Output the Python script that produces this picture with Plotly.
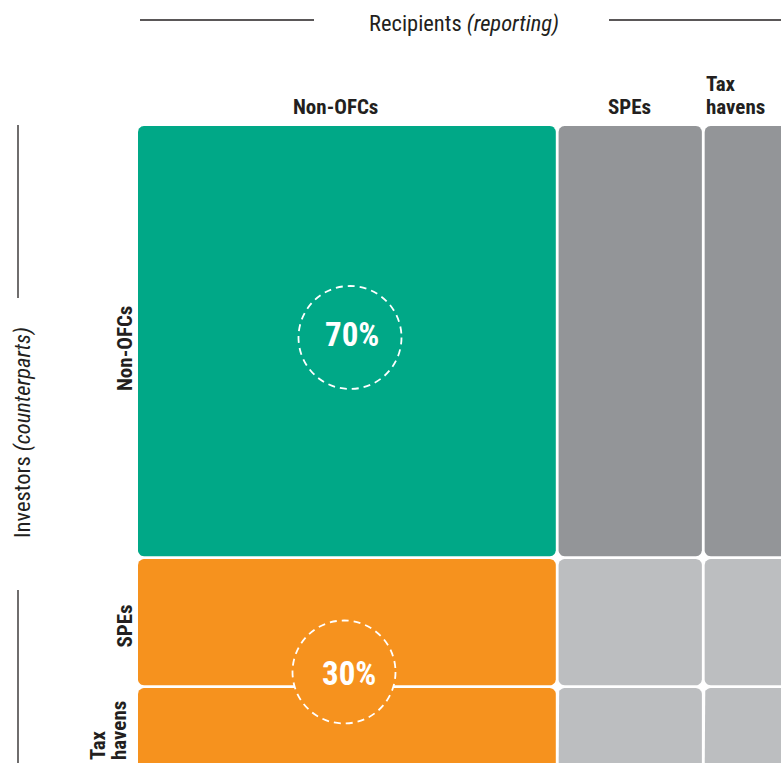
import plotly.graph_objects as go
import numpy as np

# ---- data ----
recipients = ["Non-OFCs", "SPEs", "Tax<br>havens"]          # columns (reporting)
investors = ["Non-OFCs", "SPEs", "Tax<br>havens"]           # rows (counterparts)
recipient_shares = [64.0, 22.3, 13.7]                       # column widths, % of total
investor_shares = [65.9, 19.7, 14.4]                        # row heights, % of total
highlight_labels = ["70%", "30%"]                           # non-OFC recipients: from non-OFCs / from OFCs

# ---- styling ----
GREEN = "#00A887"
ORANGE = "#F6921E"
DARK_GRAY = "#939598"
LIGHT_GRAY = "#BCBEC0"
INK = "#231F20"
FONT = "Roboto Condensed, Liberation Sans Narrow, DejaVu Sans Condensed, sans-serif"
LABEL_SIZE = 21

W, H = 781, 763
SCALE = 6.55          # pixels per share unit
X0_PX, Y0_PX = 138, 126

def px_x(p):
    return (p - X0_PX) / SCALE

def px_y(p):
    return (p - Y0_PX) / SCALE

col_edges = np.concatenate([[0], np.cumsum(recipient_shares)])
row_edges = np.concatenate([[0], np.cumsum(investor_shares)])

def cell_color(r, c):
    if c == 0:
        return GREEN if r == 0 else ORANGE
    return DARK_GRAY if r == 0 else LIGHT_GRAY

def rounded_rect(x0, x1, y0, y1, rad):
    xs, ys = [], []
    corners = [
        (x1 - rad, y0 + rad, -np.pi / 2, 0),
        (x1 - rad, y1 - rad, 0, np.pi / 2),
        (x0 + rad, y1 - rad, np.pi / 2, np.pi),
        (x0 + rad, y0 + rad, np.pi, 1.5 * np.pi),
    ]
    for cx, cy, a0, a1 in corners:
        t = np.linspace(a0, a1, 8)
        xs.extend(cx + rad * np.cos(t))
        ys.extend(cy + rad * np.sin(t))
    xs.append(xs[0])
    ys.append(ys[0])
    return xs, ys

gap = 1.4 / SCALE
rad = 6 / SCALE

fig = go.Figure()
for r in range(len(investors)):
    for c in range(len(recipients)):
        x0, x1 = col_edges[c] + gap, col_edges[c + 1] - gap
        y0, y1 = row_edges[r] + gap, row_edges[r + 1] - gap
        if c == 0:
            x0 = col_edges[c]
        if r == 0:
            y0 = row_edges[r]
        xs, ys = rounded_rect(x0, x1, y0, y1, rad)
        fig.add_trace(go.Scatter(
            x=xs, y=ys, mode="lines", fill="toself",
            fillcolor=cell_color(r, c), line=dict(width=0),
            hoverinfo="skip", showlegend=False,
        ))

shapes = []
annotations = []

# dashed circles + percentage labels
circle_r = 51.5 / SCALE
circle_centers = [(px_x(350), px_y(337.5)), (px_x(344), px_y(672))]
circle_fills = [GREEN, ORANGE]
label_pos = [(px_x(352), px_y(334)), (px_x(348.5), px_y(673))]
for (cx, cy), fill, (lx, ly), lab in zip(circle_centers, circle_fills, label_pos, highlight_labels):
    shapes.append(dict(type="circle", xref="x", yref="y", layer="above",
                       x0=cx - circle_r, x1=cx + circle_r, y0=cy - circle_r, y1=cy + circle_r,
                       fillcolor=fill,
                       line=dict(color="white", width=1.8, dash="7px,5px")))
    annotations.append(dict(x=lx, y=ly, xref="x", yref="y", text=f"<b>{lab}</b>",
                            showarrow=False, font=dict(family=FONT, size=33, color="white")))

def bold_font():
    return dict(family=FONT, size=LABEL_SIZE, color=INK)

# column headers
annotations.append(dict(x=px_x(335), y=px_y(106.5), xref="x", yref="y", text=f"<b>{recipients[0]}</b>",
                        showarrow=False, xanchor="center", yanchor="middle", font=bold_font()))
annotations.append(dict(x=px_x(629), y=px_y(106.5), xref="x", yref="y", text=f"<b>{recipients[1]}</b>",
                        showarrow=False, xanchor="center", yanchor="middle", font=bold_font()))
for line, ypx in zip(recipients[2].split("<br>"), [83.5, 106.5]):
    annotations.append(dict(x=px_x(704), y=px_y(ypx), xref="x", yref="y", text=f"<b>{line}</b>",
                            showarrow=False, xanchor="left", yanchor="middle", font=bold_font()))

# row headers (rotated)
annotations.append(dict(x=px_x(124.5), y=px_y(348.5), xref="x", yref="y", text=f"<b>{investors[0]}</b>",
                        showarrow=False, xanchor="center", yanchor="middle", textangle=-90,
                        font=bold_font()))
annotations.append(dict(x=px_x(124.5), y=px_y(626), xref="x", yref="y", text=f"<b>{investors[1]}</b>",
                        showarrow=False, xanchor="center", yanchor="middle", textangle=-90,
                        font=bold_font()))
for line, xpx in zip(investors[2].split("<br>"), [97.5, 119]):
    annotations.append(dict(x=px_x(xpx), y=px_y(762.5), xref="x", yref="y", text=f"<b>{line}</b>",
                            showarrow=False, xanchor="center", yanchor="bottom", textangle=-90,
                            font=bold_font()))

# axis titles
annotations.append(dict(x=px_x(464), y=px_y(23), xref="x", yref="y",
                        text="Recipients <i>(reporting)</i>", showarrow=False,
                        font=dict(family=FONT, size=22.5, color=INK)))
annotations.append(dict(x=px_x(22), y=px_y(433), xref="x", yref="y",
                        text="Investors <i>(counterparts)</i>", showarrow=False, textangle=-90,
                        font=dict(family=FONT, size=22.5, color=INK)))

# guide lines
line_style = dict(color=INK, width=1.3)
shapes += [
    dict(type="line", xref="x", yref="y", x0=px_x(140), x1=px_x(314), y0=px_y(20), y1=px_y(20), line=line_style),
    dict(type="line", xref="x", yref="y", x0=px_x(609), x1=px_x(790), y0=px_y(20), y1=px_y(20), line=line_style),
    dict(type="line", xref="x", yref="y", x0=px_x(18), x1=px_x(18), y0=px_y(125), y1=px_y(298), line=line_style),
    dict(type="line", xref="x", yref="y", x0=px_x(18), x1=px_x(18), y0=px_y(590), y1=px_y(770), line=line_style),
]

fig.update_layout(
    width=W, height=H,
    margin=dict(l=0, r=0, t=0, b=0),
    paper_bgcolor="white", plot_bgcolor="white",
    xaxis=dict(range=[px_x(0), px_x(W)], visible=False, fixedrange=True),
    yaxis=dict(range=[px_y(H), px_y(0)], visible=False, fixedrange=True),
    shapes=shapes,
    annotations=annotations,
    showlegend=False,
)

fig.write_html(
    "out.html",
    config={"displayModeBar": False},
    post_script="document.body.style.margin='0';document.body.style.overflow='hidden';",
)
